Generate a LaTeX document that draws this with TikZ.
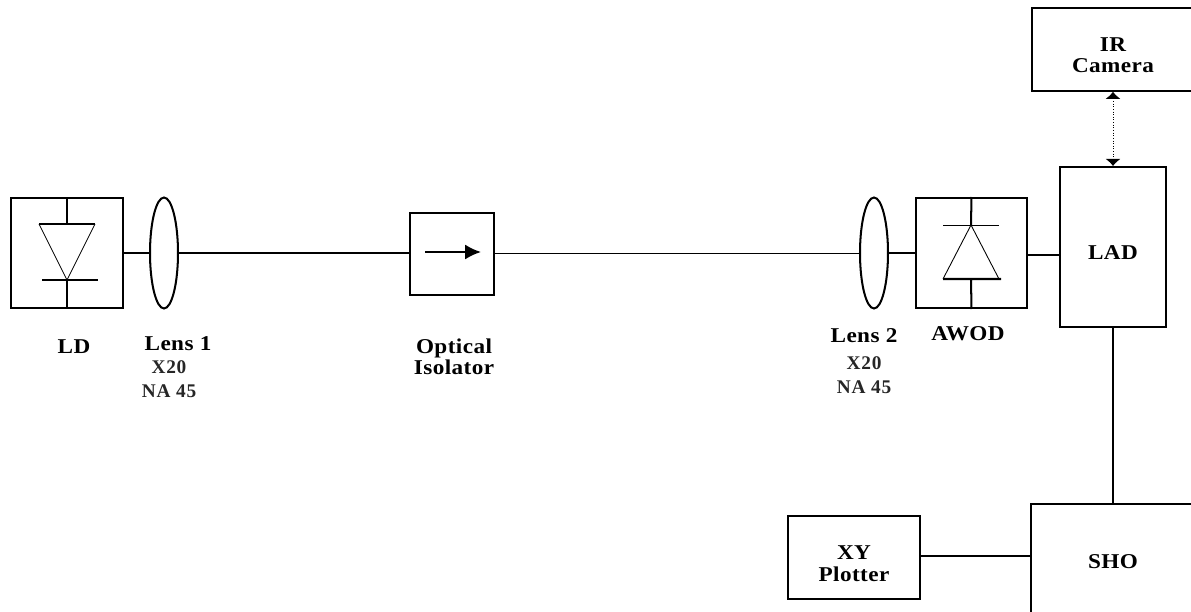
\documentclass[tikz,border=0pt]{standalone}
\usepackage{fontspec}
\setmainfont{Liberation Serif}[FakeStretch=1.1, LetterSpace=2]
\newfontfamily\datafont{Liberation Serif}[LetterSpace=4]
\usepackage{tikz}
\usetikzlibrary{arrows.meta, positioning, calc}

\begin{document}
\begin{tikzpicture}[
    x=0.02cm, y=-0.02cm,
    blockbox/.style={draw, line width=1.15pt, inner sep=0pt},
    thickline/.style={line width=1.15pt},
    thinline/.style={line width=0.5pt},
    caption/.style={font=\bfseries\fontsize{12}{12.2}\selectfont, align=center, inner sep=0pt},
    subcaption/.style={font=\datafont\bfseries\fontsize{11}{13.5}\selectfont, align=center, inner sep=0pt, black!85}
]
\useasboundingbox (0,0) rectangle (1191,612);
\clip (0,0) rectangle (1191,612);

% blocks
\node[blockbox, minimum width=2.24cm, minimum height=2.2cm] (ld) at (67,253) {};
\node[blockbox, minimum width=1.68cm, minimum height=1.64cm] (isolator) at (452,254) {};
\node[blockbox, minimum width=2.22cm, minimum height=2.2cm] (awod) at (971.5,253) {};
\node[blockbox, minimum width=2.12cm, minimum height=3.2cm] (lad) at (1113,247) {};
\node[blockbox, minimum width=3.24cm, minimum height=1.65cm] (camera) at (1113,49.5) {};
\node[blockbox, minimum width=3.28cm, minimum height=2.3cm] (sho) at (1113,561.5) {};
\node[blockbox, minimum width=2.64cm, minimum height=1.66cm] (plotter) at (854,557.5) {};

% lenses
\draw[thickline] (164,253) ellipse (14 and 55.5);
\coordinate (lens1w) at (150,253);
\coordinate (lens1e) at (178,253);
\draw[thickline] (874,253) ellipse (14 and 55.5);
\coordinate (lens2w) at (860,253);
\coordinate (lens2e) at (888,253);

% laser diode
\draw[thickline] (ld.north) -- (67,224) (39,224) -- (95,224);
\draw[thinline] (39,224) -- (67,280) -- (95,224);
\draw[thickline] (42,280) -- (98,280) (67,280) -- (ld.south);

% photodiode
\draw[thickline] (awod.north) -- (971,225);
\draw[thinline] (943,225) -- (999,225);
\draw[thinline] (943,279) -- (971,225) -- (999,279);
\draw[thickline] (943,279) -- (1001,279) (971,279) -- (awod.south);

% isolator arrow
\coordinate (arrowa) at (425,252);
\coordinate (arrowb) at (481,252);
\draw[thickline, -{Latex[length=9pt,width=8.5pt]}] (arrowa) -- (arrowb);

% connections
\draw[thickline] (ld.east) -- (lens1w);
\draw[thickline] (lens1e) -- (lens1e -| isolator.west);
\draw[thinline] (lens2w -| isolator.east) -- (lens2w);
\draw[thickline] (lens2e) -- (lens2e -| awod.west);
\draw[thickline] ([yshift=-1pt]awod.east) -- ([yshift=-1pt]awod.east -| lad.west);
\draw[thickline] (lad.south) -- (sho.north);
\draw[thickline] ([yshift=0.8pt]plotter.east) -- ([yshift=0.8pt]plotter.east -| sho.west);
\draw[thinline, densely dotted, {Latex[length=4pt,width=8.5pt]}-{Latex[length=4pt,width=8.5pt]}] (camera.south) -- (lad.north);

% labels
\node[caption] (ladlabel) at (1113,253) {LAD};
\node[caption] (cameralabel) at (1113,55) {IR\\Camera};
\node[caption] (sholabel) at (1113,561.5) {SHO};
\node[caption] (plotterlabel) at (854,563.5) {XY\\Plotter};
\node[caption] (ldlabel) at (74,347) {LD};
\node[caption] (lens1label) at (178,344) {Lens 1};
\node[subcaption] (lens1data) at (169,379) {X20\\NA 45};
\node[caption] (isolatorlabel) at (454,357) {Optical\\Isolator};
\node[caption] (lens2label) at (864,336) {Lens 2};
\node[subcaption] (lens2data) at (864,375) {X20\\NA 45};
\node[caption] (awodlabel) at (968,334) {AWOD};
\end{tikzpicture}
\end{document}
